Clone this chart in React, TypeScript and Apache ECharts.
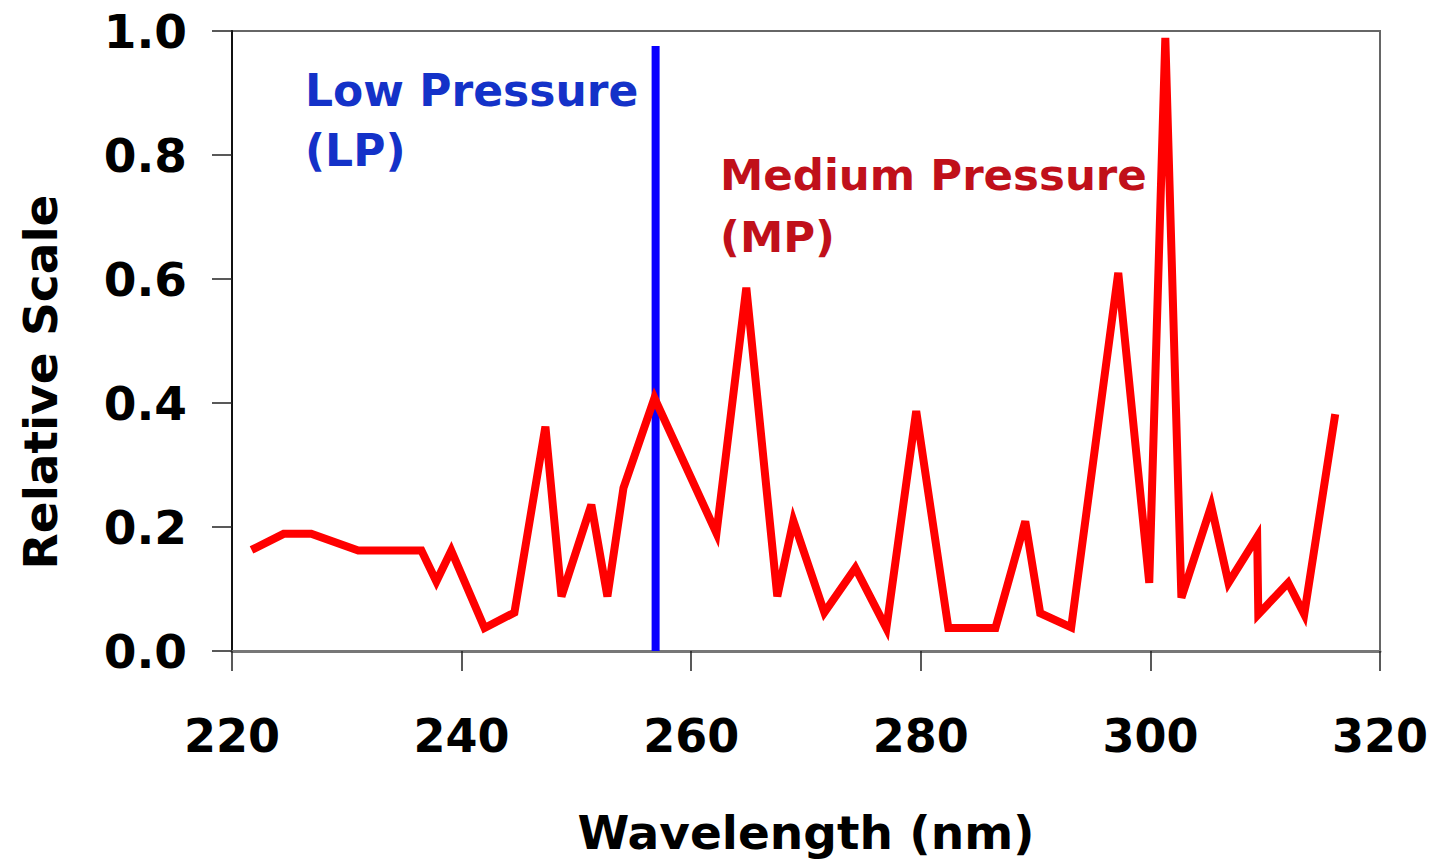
import React, { useEffect, useRef } from "react";
import * as echarts from "echarts";

const wavelengths = [221.7, 224.5, 226.9, 231.0, 236.5, 237.8, 239.1, 242.0, 244.6, 247.3, 248.7, 251.3, 252.7, 254.1, 256.8, 262.2, 264.8, 267.5, 268.9, 271.6, 274.3, 277.0, 279.6, 282.4, 286.5, 289.1, 290.4, 293.1, 297.2, 299.9, 301.3, 302.7, 305.3, 306.8, 309.3, 309.4, 312.0, 313.4, 316.1];
const mpValues = [0.163, 0.189, 0.189, 0.162, 0.162, 0.112, 0.162, 0.037, 0.062, 0.362, 0.088, 0.236, 0.088, 0.263, 0.408, 0.190, 0.586, 0.088, 0.210, 0.062, 0.134, 0.037, 0.387, 0.037, 0.037, 0.209, 0.061, 0.038, 0.610, 0.110, 0.989, 0.086, 0.234, 0.110, 0.184, 0.059, 0.110, 0.059, 0.382];
const lpWavelength = 256.9;
const lpValues = [0, 0.976];
const xTicks = { min: 220, max: 320, interval: 20 };
const yTicks = { min: 0, max: 1, interval: 0.2 };

const FONT = "DejaVu Sans";

export default function App() {
  const ref = useRef<HTMLDivElement>(null);
  useEffect(() => {
    if (!ref.current) return;
    const chart = echarts.init(ref.current, null, { renderer: "svg" });
    const mpData = wavelengths.map((w, i) => [w, mpValues[i]]);
    const lpData = lpValues.map((v) => [lpWavelength, v]);
    chart.setOption({
      animation: false,
      backgroundColor: "#ffffff",
      grid: {
        left: 232,
        top: 31,
        right: 57,
        bottom: 214,
        show: true,
        borderColor: "#666666",
        borderWidth: 2,
      },
      xAxis: {
        type: "value",
        min: xTicks.min,
        max: xTicks.max,
        interval: xTicks.interval,
        name: "Wavelength (nm)",
        nameLocation: "middle",
        nameGap: 158,
        nameTextStyle: { fontFamily: FONT, fontWeight: "bold", fontSize: 47, color: "#000" },
        axisLine: { show: true, lineStyle: { color: "#777777", width: 3 } },
        axisTick: { show: true, inside: false, length: 20, lineStyle: { color: "#222", width: 1.5 } },
        axisLabel: { margin: 62, fontFamily: FONT, fontWeight: "bold", fontSize: 46, color: "#000" },
        splitLine: { show: false },
      },
      yAxis: {
        type: "value",
        min: yTicks.min,
        max: yTicks.max,
        interval: yTicks.interval,
        name: "Relative Scale",
        nameLocation: "middle",
        nameGap: 168,
        nameRotate: 90,
        nameTextStyle: { fontFamily: FONT, fontWeight: "bold", fontSize: 47, color: "#000", padding: [0, 82, 0, 0] },
        axisLine: { show: true, lineStyle: { color: "#111111", width: 2 } },
        axisTick: { show: true, inside: false, length: 20, lineStyle: { color: "#222", width: 1.5 } },
        axisLabel: {
          margin: 45,
          fontFamily: FONT,
          fontWeight: "bold",
          fontSize: 47,
          color: "#000",
          formatter: (v: number) => v.toFixed(1),
        },
        splitLine: { show: false },
      },
      graphic: [
        {
          type: "text",
          left: 305,
          top: 60,
          style: {
            text: "Low Pressure\n(LP)",
            fontFamily: FONT,
            fontWeight: "bold",
            fontSize: 44,
            lineHeight: 60,
            fill: "#1432c8",
          },
        },
        {
          type: "text",
          left: 720,
          top: 144,
          style: {
            text: "Medium Pressure\n(MP)",
            fontFamily: FONT,
            fontWeight: "bold",
            fontSize: 43.5,
            lineHeight: 62,
            fill: "#c0101a",
          },
        },
      ],
      series: [
        {
          type: "line",
          data: lpData,
          symbol: "none",
          lineStyle: { color: "#0a00ff", width: 8, cap: "butt" },
          z: 2,
        },
        {
          type: "line",
          data: mpData,
          symbol: "none",
          lineStyle: { color: "#ff0000", width: 8, join: "miter", miterLimit: 4 },
          z: 3,
        },
      ],
    });
    return () => chart.dispose();
  }, []);
  return (
    <div
      ref={ref}
      style={{ position: "absolute", left: 0, top: 0, width: 1437, height: 865 }}
    />
  );
}
